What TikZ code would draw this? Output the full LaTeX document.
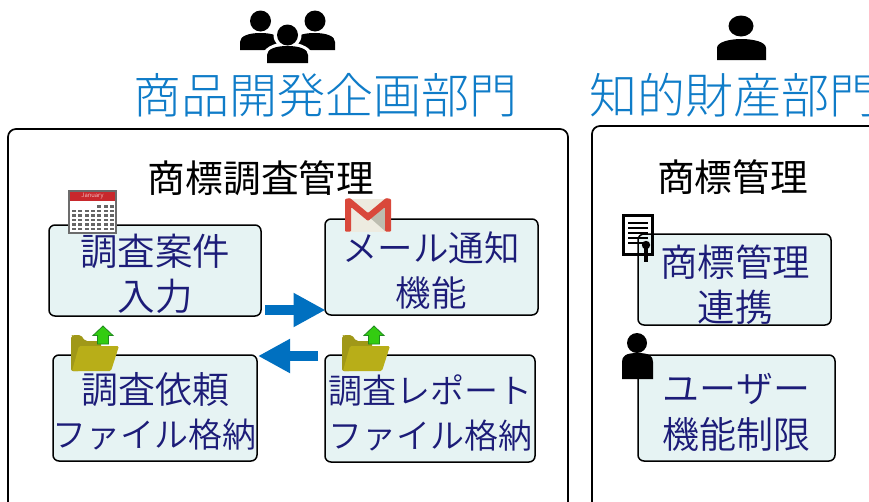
\documentclass[tikz,border=0pt]{standalone}
\usepackage{fontspec}
\setmainfont{Noto Sans CJK JP Light}
\newfontfamily\boxfont{Noto Sans CJK JP DemiLight}
\newfontfamily\subfont{Noto Sans CJK JP}
\usetikzlibrary{arrows.meta}
\definecolor{titleblue}{HTML}{0F7CC8}
\definecolor{arrowblue}{HTML}{0070C0}
\definecolor{boxfill}{HTML}{E6F3F3}
\definecolor{boxtxt}{HTML}{1C1C78}
\definecolor{folderA}{HTML}{B8AE18}
\definecolor{folderB}{HTML}{A09818}
\definecolor{gmailred}{HTML}{D9483B}
\definecolor{gmailbg}{HTML}{EDEBE0}
\definecolor{gmailshade}{HTML}{BDBDB0}
\definecolor{calred}{HTML}{C8282C}
\definecolor{arrowgreen}{HTML}{33CC11}
\definecolor{arrowgreenb}{HTML}{1F8A1F}
\tikzset{
  x=1pt,y=-1pt,
  panel/.style={draw=black,line width=1.7pt,rounded corners=8pt,fill=white},
  bx/.style={draw=black,line width=1.5pt,rounded corners=6pt,fill=boxfill,inner sep=0pt},
  boxtext/.style={text=boxtxt,align=center,inner sep=0pt},
  maintitle/.style={text=titleblue,inner sep=0pt,font=\fontsize{48}{50}\selectfont},
  subtitle/.style={text=black,inner sep=0pt,font=\subfont\fontsize{37.7}{40}\selectfont},
  flow/.style={draw=arrowblue,line width=10pt,-{Triangle[length=32pt,width=32pt,fill=arrowblue]}},
  folderpic/.pic={
    \fill[folderB,rounded corners=2pt] (1,44)--(1,9)--(3,8)--(11,8)--(15,14)--(31,14)--(31,30)--(10,44)--cycle;
    \fill[folderA,rounded corners=1.5pt] (2,44)--(9,19)--(49,19)--(41,44)--cycle;
    \fill[arrowgreen,draw=arrowgreenb,line width=.8pt] (33,-1)--(43,8.5)--(38.5,8.5)--(38.5,17)--(27.5,17)--(27.5,8.5)--(23,8.5)--cycle;
  }
}
\newcommand{\personbody}[4]{% x1 x2 top bottom
  \fill[black] (#1,#4) -- (#1,#3+9)
    .. controls (#1,#3+3) and ({(#1+#2)/2-12},#3) .. ({(#1+#2)/2},#3)
    .. controls ({(#1+#2)/2+12},#3) and (#2,#3+3) .. (#2,#3+9) -- (#2,#4) -- cycle;}
\begin{document}
\begin{tikzpicture}
\useasboundingbox (0,0) rectangle (869,501);
\clip (0,0) rectangle (869,501);

% group icon
\fill (260.5,21) circle (10.5);
\fill (315,21) circle (10.5);
\personbody{240}{281}{33}{50}
\personbody{294}{335}{33}{50}
\fill[white] (287.5,35) circle (14);
\fill[white] (263,57) -- (263,53) .. controls (266,46) and (278,42) .. (287.5,42) .. controls (297,42) and (309,46) .. (312,53) -- (312,64) -- (263,64) -- cycle;
\fill (287.5,35) circle (10.5);
\personbody{267}{308}{46}{63}
% single icon
\fill (741,26) ellipse (12.5 and 10.5);
\personbody{717}{766}{39}{60}

\node[maintitle] (t1) at (325.5,95) {商品開発企画部門};
\node[maintitle,anchor=west] (t2) at (589.5,95) {知的財産部門};

% panels
\node[panel,minimum width=560pt,minimum height=420pt] (P1) at (288,339) {};
\node[panel,minimum width=340pt,minimum height=420pt] (P2) at (762,336) {};
\node[subtitle] (s1) at (261,178) {商標調査管理};
\node[subtitle] (s2) at (732.5,177) {商標管理};

% boxes
\node[bx,minimum width=212pt,minimum height=91pt] (A) at (155,270.5) {};
\node[bx,minimum width=213pt,minimum height=96pt] (B) at (431.5,267) {};
\node[bx,minimum width=204pt,minimum height=106pt] (C) at (155,408) {};
\node[bx,minimum width=210pt,minimum height=107pt] (D) at (430,408.5) {};
\node[bx,minimum width=193pt,minimum height=91pt] (E) at (734.5,279.5) {};
\node[bx,minimum width=197pt,minimum height=106pt] (F) at (736.5,408) {};

\node[boxtext,font=\boxfont\fontsize{37.5}{45}\selectfont] (At) at (155,274) {調査案件\\入力};
\node[boxtext,font=\boxfont\fontsize{35.5}{45}\selectfont] (Bt) at (431,270.5) {メール通知\\機能};
\node[boxtext,font=\boxfont\fontsize{37}{45}\selectfont] (Ct1) at (155.5,390) {調査依頼};
\node[boxtext,font=\boxfont\fontsize{34}{45}\selectfont] (Ct2) at (154.5,435) {ファイル格納};
\node[boxtext,font=\boxfont\fontsize{34}{45}\selectfont] (Dt) at (430,412.5) {調査レポート\\ファイル格納};
\node[boxtext,font=\boxfont\fontsize{37.5}{45}\selectfont] (Et) at (735,284.5) {商標管理\\連携};
\node[boxtext,font=\boxfont\fontsize{37}{46}\selectfont] (Ft) at (736.5,412) {ユーザー\\機能制限};

% flow arrows
\coordinate (r1) at (265,310);
\coordinate (r2) at (325.5,310);
\coordinate (l1) at (318,356);
\coordinate (l2) at (258,356);
\draw[flow] (r1) -- (r2);
\draw[flow] (l1) -- (l2);

% calendar icon
\fill[gray!85!black] (68,190) rectangle (117,234);
\fill[calred] (70,192) rectangle (115,201);
\node[inner sep=0pt,text=white,font=\fontsize{6}{6}\selectfont\itshape] (cal) at (92.5,196) {January};
\fill[white] (70,201) rectangle (115,232);
\foreach \yy in {206.5,211,215.5,220,224.5,229}{
  \foreach \xx in {72,78.3,84.6,90.9,97.2,103.5,109.8}{
    \fill[black!60] (\xx,\yy-1.4) rectangle (\xx+4,\yy+1.4);
  }
}
\fill[white] (70,203) rectangle (97,208);

% gmail icon
\fill[gmailbg] (345,199) rectangle (391,232);
\fill[gmailshade] (368,216) -- (385,203) -- (385,231) -- cycle;
\fill[gmailred,rounded corners=1pt] (345,231.5) -- (345,199) -- (350,198) -- (368,213) -- (386,198) -- (391,199) -- (391,231.5) -- (385,231.5) -- (385,207) -- (368,221) -- (351,207) -- (351,231.5) -- cycle;

% folder icons
\pic at (70,327) {folderpic};
\pic at (341,327) {folderpic};

% document icon
\draw[black,line width=2.8pt] (623.5,215.5) rectangle (652.5,254.5);
\foreach \yy in {223,228,233,238,243}{\draw[black,line width=1.3pt] (628,\yy) -- (648,\yy);}
\fill (646,245) circle (4.2);
\draw[line width=3.5pt] (646,246) -- (646,262);

% person icon
\fill (637,343) circle (10);
\personbody{622}{653}{353}{379}
\end{tikzpicture}
\end{document}
